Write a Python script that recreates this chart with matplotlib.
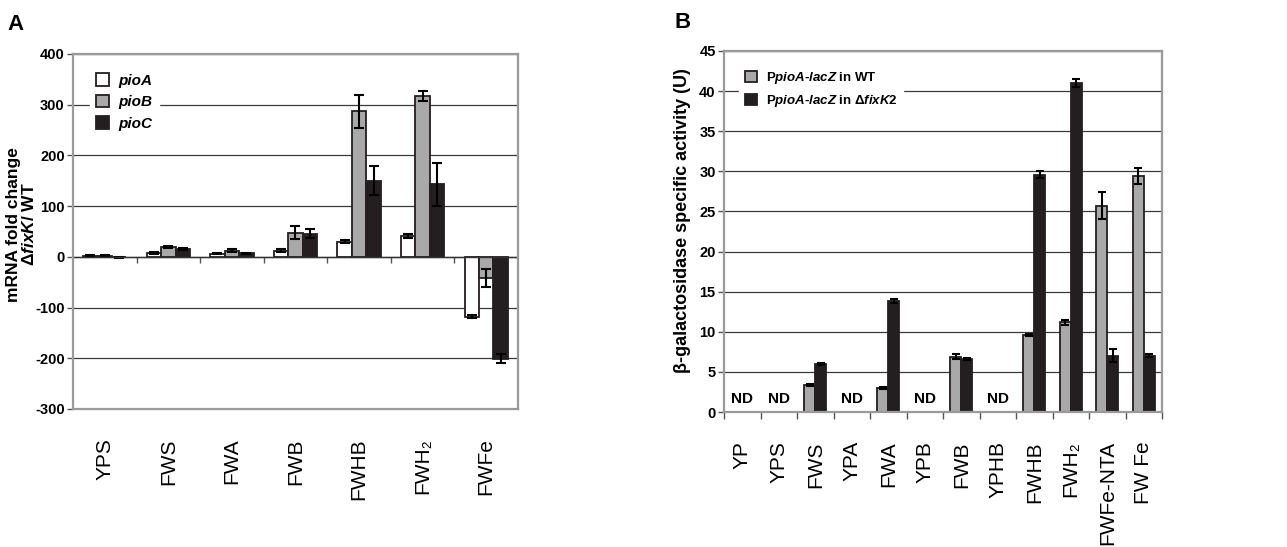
import matplotlib.pyplot as plt
import numpy as np

plt.rcParams['font.family'] = ['Liberation Sans', 'DejaVu Sans']
plt.rcParams['axes.unicode_minus'] = False
plt.rcParams['mathtext.fontset'] = 'custom'
plt.rcParams['mathtext.rm'] = 'Liberation Sans:bold'
plt.rcParams['mathtext.it'] = 'Liberation Sans:bold:italic'
plt.rcParams['mathtext.bf'] = 'Liberation Sans:bold'

# Panel A: mRNA fold change (dfixK / WT)
a_categories = ['YPS', 'FWS', 'FWA', 'FWB', 'FWHB', 'FWH₂', 'FWFe']
pioA = [2, 8, 6, 12, 30, 42, -118]
pioA_err = [1, 2, 1, 3, 3, 4, 3]
pioB = [2, 20, 12, 48, 287, 317, -41]
pioB_err = [1, 2, 3, 12, 33, 10, 18]
pioC = [-1, 15, 7, 46, 150, 143, -201]
pioC_err = [1, 2, 1, 8, 29, 42, 9]

# Panel B: beta-galactosidase activity
b_categories = ['YP', 'YPS', 'FWS', 'YPA', 'FWA', 'YPB', 'FWB', 'YPHB',
                'FWHB', 'FWH₂', 'FWFe-NTA', 'FW Fe']
wt = [0, 0, 3.4, 0, 3.0, 0, 6.9, 0, 9.6, 11.2, 25.7, 29.4]
wt_err = [0, 0, 0.15, 0, 0.1, 0, 0.3, 0, 0.15, 0.3, 1.7, 1.0]
dfix = [0, 0, 6.0, 0, 13.8, 0, 6.6, 0, 29.6, 41.0, 7.0, 7.0]
dfix_err = [0, 0, 0.15, 0, 0.25, 0, 0.1, 0, 0.4, 0.5, 0.8, 0.2]

grey = '#a9a9a9'
dark = '#231f20'
frame = '#9a9a9a'
gridc = '#3a3a3a'

fig = plt.figure(figsize=(12.87, 5.47), dpi=100)
axA = fig.add_axes([0.0567, 0.2523, 0.3458, 0.649])
axB = fig.add_axes([0.5626, 0.2468, 0.3403, 0.66])


def style_axes(ax):
    for s in ax.spines.values():
        s.set_color(frame)
        s.set_linewidth(1.6)
    ax.set_axisbelow(True)
    ax.yaxis.grid(True, color=gridc, lw=0.9)
    ax.tick_params(axis='y', length=4, width=1, color='#555555', labelsize=10.5, pad=2)
    for t in ax.get_yticklabels():
        t.set_fontweight('bold')
    ax.tick_params(axis='x', which='major', length=0, labelsize=15, pad=21, rotation=90)


# ---- Panel A ----
x = np.arange(len(a_categories))
w = 0.227
ekw = dict(ecolor='black', elinewidth=1.5, capsize=3.5, capthick=1.5)
axA.bar(x - w, pioA, w, yerr=pioA_err, color='white', edgecolor=dark, lw=1.3,
        label='pioA', error_kw=ekw)
axA.bar(x, pioB, w, yerr=pioB_err, color=grey, edgecolor=dark, lw=1.3,
        label='pioB', error_kw=ekw)
axA.bar(x + w, pioC, w, yerr=pioC_err, color=dark, edgecolor=dark, lw=1.3,
        label='pioC', error_kw=ekw)
axA.set_xlim(-0.5, len(a_categories) - 0.5)
axA.set_ylim(-300, 400)
axA.set_yticks(np.arange(-300, 401, 100))
axA.set_xticks(x)
axA.set_xticklabels(a_categories)
style_axes(axA)
axA.axhline(0, color='#333333', lw=1.0)
secA = axA.secondary_xaxis(0, transform=axA.transData)
secA.spines['bottom'].set_visible(False)
secA.set_xticks(np.arange(0.5, len(a_categories) - 0.5, 1))
secA.tick_params(length=4, width=1, color='#555555', labelbottom=False)
axA.legend(loc='upper left', bbox_to_anchor=(0.02, 0.985), frameon=True,
           facecolor='white', edgecolor='white', framealpha=1, fancybox=False,
           prop=dict(weight='bold', style='italic', size=11),
           handlelength=0.9, handleheight=0.9, labelspacing=0.45,
           borderpad=0.4, handletextpad=0.6)
axA.set_ylabel('mRNA fold change\n$\\Delta$$\\it{fixK}$/ WT', fontsize=12.5,
               fontweight='bold', linespacing=1.05)
axA.yaxis.set_label_coords(-0.08, 0.52)
fig.text(0.006, 0.945, 'A', fontsize=16, fontweight='bold')

# ---- Panel B ----
xb = np.arange(len(b_categories))
wb = 0.3
ekb = dict(ecolor='black', elinewidth=1.5, capsize=3, capthick=1.5)
wt_a = np.array(wt)
dfix_a = np.array(dfix)
axB.bar(xb - wb / 2, wt, wb, color=grey, edgecolor=dark, lw=1.3,
        label='P$\\it{pioA}$-$\\it{lacZ}$ in WT')
axB.bar(xb + wb / 2, dfix, wb, color=dark, edgecolor=dark, lw=1.3,
        label='P$\\it{pioA}$-$\\it{lacZ}$ in $\\Delta$$\\it{fixK2}$')
mw = wt_a > 0
md = dfix_a > 0
axB.errorbar(xb[mw] - wb / 2, wt_a[mw], yerr=np.array(wt_err)[mw], fmt='none', **ekb)
axB.errorbar(xb[md] + wb / 2, dfix_a[md], yerr=np.array(dfix_err)[md], fmt='none', **ekb)
for xi, a, b in zip(xb, wt, dfix):
    if a == 0 and b == 0:
        axB.text(xi, 0.8, 'ND', ha='center', va='bottom', fontsize=11,
                 fontweight='bold')
axB.set_xlim(-0.5, len(b_categories) - 0.5)
axB.set_ylim(0, 45)
axB.set_yticks(np.arange(0, 46, 5))
axB.set_xticks(xb)
axB.set_xticklabels(b_categories)
axB.set_xticks(np.arange(-0.5, len(b_categories), 1), minor=True)
style_axes(axB)
axB.tick_params(axis='x', which='minor', length=5, width=1, color='#555555')
axB.legend(loc='upper left', bbox_to_anchor=(0.02, 0.98), frameon=True,
           facecolor='white', edgecolor='white', framealpha=1, fancybox=False,
           prop=dict(weight='bold', size=9.5),
           handlelength=0.9, handleheight=0.9, labelspacing=0.55,
           borderpad=0.4, handletextpad=0.7)
axB.set_ylabel('β-galactosidase specific activity (U)', fontsize=13,
               fontweight='bold')
axB.yaxis.set_label_coords(-0.075, 0.53)
fig.text(0.524, 0.948, 'B', fontsize=16, fontweight='bold')

fig.savefig('out.png', dpi=100)
